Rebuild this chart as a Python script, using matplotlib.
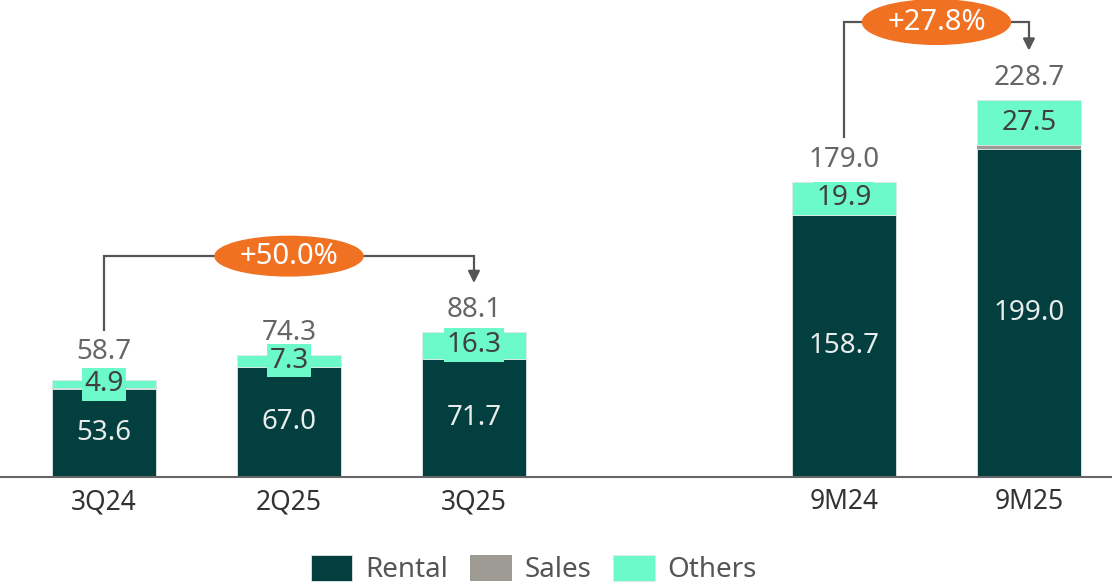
import matplotlib.pyplot as plt
from matplotlib.patches import Ellipse
import numpy as np

plt.rcParams['font.family'] = ['Noto Sans', 'DejaVu Sans']

# Data
categories = ['3Q24', '2Q25', '3Q25', '9M24', '9M25']
positions = [0, 1, 2, 4, 5]
rental = [53.6, 67.0, 71.7, 158.7, 199.0]
sales = [0.2, 0.0, 0.1, 0.4, 2.2]
others = [4.9, 7.3, 16.3, 19.9, 27.5]
totals = [58.7, 74.3, 88.1, 179.0, 228.7]
growth_labels = ['+50.0%', '+27.8%']

c_rental = '#033F3F'
c_sales = '#9E9B94'
c_others = '#6CFACB'
c_orange = '#F07122'

fig = plt.figure(figsize=(11.12, 5.86), dpi=100)
ax = fig.add_axes([0, 0.186, 1, 0.814])

x = np.array(positions)
w = 0.56
rental = np.array(rental)
sales = np.array(sales)
others = np.array(others)

fs = 20

ax.bar(x, rental, w, color=c_rental, edgecolor='#dfe8e6', linewidth=0.6, label='Rental')
ax.bar(x, sales, w, bottom=rental, color=c_sales, linewidth=0, label='Sales')
ax.bar(x, others, w, bottom=rental + sales, color=c_others, edgecolor='#dfe8e6',
       linewidth=0.6, label='Others')

for i in range(len(x)):
    ax.text(x[i], rental[i] / 2, f'{rental[i]:.1f}', ha='center', va='center',
            fontsize=fs, color='#e8ecea')
    ax.text(x[i], rental[i] + sales[i] + others[i] / 2, f'{others[i]:.1f}',
            ha='center', va='center', fontsize=fs, color='#404040',
            bbox=dict(boxstyle='square,pad=0.1', fc=c_others, ec='none'))
    off = 22 if others[i] >= 6 else 28
    ax.annotate(f'{totals[i]:.1f}', (x[i], totals[i]), xytext=(0, off),
                textcoords='offset pixels', ha='center', va='center',
                fontsize=fs, color='#666666')

ax.set_xlim(-0.562, 5.449)
ax.set_ylim(0, 289.4)

# growth brackets
def bracket(x0, x1, ylow, ytop, ytip, label, h):
    ax.plot([x0, x0, x1, x1], [ylow, ytop, ytop, ytip + 8], color='#555555',
            lw=1.6, solid_joinstyle='miter', zorder=3)
    ax.annotate('', xy=(x1, ytip), xytext=(x1, ytip + 9),
                arrowprops=dict(arrowstyle='-|>,head_width=0.35,head_length=0.7',
                                color='#555555', lw=1.6), zorder=3)
    xm = (x0 + x1) / 2
    ax.add_patch(Ellipse((xm, ytop), 0.8, h, color=c_orange, zorder=4))
    ax.text(xm, ytop, label, ha='center', va='center', fontsize=21,
            color='white', zorder=5)

bracket(0, 2, 89, 134, 116, growth_labels[0], 24)
bracket(4, 5, 206, 276, 257, growth_labels[1], 27)

for s in ['top', 'right', 'left']:
    ax.spines[s].set_visible(False)
ax.spines['bottom'].set_color('#666666')
ax.spines['bottom'].set_linewidth(1.5)
ax.set_yticks([])
ax.set_xticks(x)
ax.set_xticklabels(categories, fontsize=19, color='#333333')
ax.tick_params(axis='x', length=0, pad=8)

fig.legend(loc='center', bbox_to_anchor=(0.48, 0.028), ncol=3, frameon=False,
           fontsize=fs, handlelength=1.5, handleheight=1.1, columnspacing=0.8,
           handletextpad=0.45, labelcolor='#555555')

fig.savefig('out.png', dpi=100)
